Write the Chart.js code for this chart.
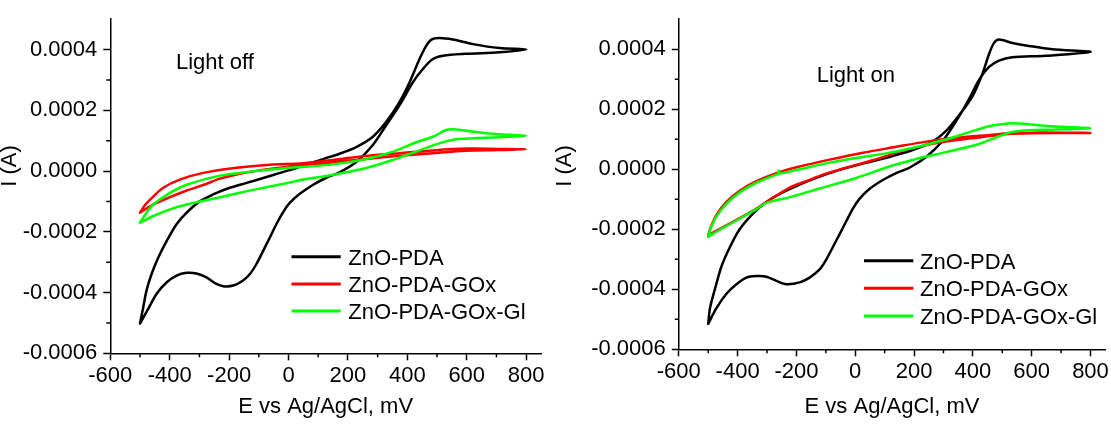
<!DOCTYPE html>
<html>
<head>
<meta charset="utf-8">
<title>CV light off / light on</title>
<script src="https://cdn.jsdelivr.net/npm/chart.js@4"></script>
<style>
    html, body { margin: 0; padding: 0; background: #fff; }
    body { width: 1111px; height: 424px; position: relative; overflow: hidden; }
    .panel { position: absolute; top: 0; height: 424px; }
    #offBox { left: -1px; width: 561px; }
    #onBox { left: 554px; width: 557px; }
</style>
</head>
<body>
<div class="panel" id="offBox"><canvas id="offChart"></canvas></div>
<div class="panel" id="onBox"><canvas id="onChart"></canvas></div>
<script>
const FONT = "'Liberation Sans', Arial, Helvetica, sans-serif";

const seriesNames = ["ZnO-PDA", "ZnO-PDA-GOx", "ZnO-PDA-GOx-Gl"];
const seriesColors = ["#000000", "#ff0000", "#00ff00"];

// axis ticks (potential in mV, current in units of 1e-4 A)
const xMinor = [-500, -300, -100, 100, 300, 500, 700];
const yMinor = [-5, -3, -1, 1, 3];

// Light off: scan from -500 up to 800 mV and back
const offPdaE = [-500, -489, -478, -461, -438, -410, -377, -343, -298, -254, -198, -141, -85, -29, 27, 83, 127, 172, 228, 284, 329, 374, 408, 441, 464, 481, 509, 553, 621, 710, 800,
    710, 598, 520, 486, 453, 419, 374, 329, 284, 228, 172, 127, 83, 38, 4, -18, -41, -63, -85, -108, -130, -153, -186, -220, -248, -276, -310, -343, -377, -410, -444, -472, -500];
const offPdaI = [-5.02, -4.48, -3.93, -3.39, -2.84, -2.30, -1.75, -1.37, -0.99, -0.77, -0.55, -0.39, -0.23, -0.06, 0.10, 0.29, 0.43, 0.57, 0.79, 1.13, 1.62, 2.28, 2.93, 3.69, 4.13, 4.33, 4.38, 4.33, 4.18, 4.05, 4.00,
    3.91, 3.86, 3.80, 3.69, 3.37, 2.93, 2.17, 1.51, 0.86, 0.30, -0.04, -0.22, -0.45, -0.75, -1.05, -1.35, -1.75, -2.19, -2.62, -3.06, -3.39, -3.60, -3.77, -3.79, -3.69, -3.50, -3.37, -3.35, -3.44, -3.66, -4.04, -4.53, -5.02];

const offGoxE = [-500, -483, -466, -422, -366, -287, -175, -63, 49, 160, 262, 374, 486, 598, 710, 800,
    710, 598, 486, 374, 262, 150, 38, -63, -119, -175, -231, -287, -343, -399, -455, -500];
const offGoxI = [-1.37, -1.12, -0.94, -0.55, -0.28, -0.06, 0.11, 0.21, 0.26, 0.38, 0.50, 0.59, 0.68, 0.74, 0.73, 0.72,
    0.69, 0.67, 0.59, 0.50, 0.40, 0.29, 0.18, 0.07, -0.01, -0.11, -0.25, -0.46, -0.64, -0.86, -1.10, -1.37];

const offGlE = [-500, -478, -455, -399, -343, -231, -119, -7, 38, 150, 262, 352, 430, 486, 531, 565, 621, 710, 800,
    710, 621, 565, 509, 430, 352, 262, 150, 38, -7, -119, -231, -343, -399, -455, -500];
const offGlI = [-1.70, -1.37, -1.10, -0.72, -0.45, -0.15, -0.01, 0.10, 0.13, 0.22, 0.40, 0.64, 0.95, 1.13, 1.35, 1.37, 1.30, 1.21, 1.16,
    1.11, 1.08, 1.05, 0.92, 0.64, 0.37, 0.10, -0.12, -0.30, -0.40, -0.62, -0.86, -1.10, -1.26, -1.48, -1.70];

// Light on
const onPdaE = [-500, -494, -477, -455, -426, -393, -347, -302, -257, -200, -133, -53, 26, 116, 195, 263, 308, 353, 399, 433, 455, 472, 489, 534, 591, 670, 800,
    647, 534, 489, 455, 421, 387, 342, 297, 241, 184, 139, 94, 48, 15, -8, -31, -53, -76, -99, -121, -155, -189, -234, -268, -302, -336, -370, -404, -438, -472, -500];
const onPdaI = [-5.15, -4.63, -3.99, -3.24, -2.59, -2.00, -1.47, -1.09, -0.82, -0.56, -0.29, -0.02, 0.19, 0.41, 0.64, 0.92, 1.27, 1.80, 2.44, 3.19, 3.84, 4.21, 4.32, 4.21, 4.11, 4.00, 3.91,
    3.78, 3.73, 3.62, 3.41, 2.98, 2.34, 1.59, 0.94, 0.41, 0.05, -0.13, -0.36, -0.66, -0.98, -1.31, -1.74, -2.16, -2.59, -3.02, -3.34, -3.61, -3.77, -3.83, -3.72, -3.58, -3.56, -3.61, -3.83, -4.15, -4.63, -5.15];

const onGoxE = [-500, -492, -472, -438, -393, -336, -268, -189, -87, 26, 130, 241, 350, 466, 523, 600, 800,
    600, 512, 421, 308, 184, 59, -31, -110, -167, -223, -268, -302, -336, -393, -449, -500];
const onGoxI = [-2.20, -1.95, -1.52, -1.09, -0.72, -0.40, -0.13, 0.09, 0.32, 0.55, 0.73, 0.92, 1.06, 1.15, 1.20, 1.22, 1.21,
    1.20, 1.17, 1.06, 0.92, 0.68, 0.30, 0.05, -0.18, -0.40, -0.61, -0.88, -1.09, -1.31, -1.63, -1.93, -2.20];

const onGlE = [-500, -492, -472, -438, -393, -336, -268, -262, -260, -258, -189, -87, 26, 100, 184, 308, 399, 455, 500, 534, 591, 670, 800,
    670, 591, 534, 489, 421, 308, 195, 116, 3, -110, -223, -302, -336, -393, -449, -500];
const onGlI = [-2.25, -1.98, -1.57, -1.15, -0.77, -0.45, -0.18, -0.155, -0.04, -0.145, 0.00, 0.22, 0.41, 0.52, 0.68, 0.99, 1.27, 1.43, 1.50, 1.53, 1.50, 1.43, 1.37,
    1.32, 1.30, 1.24, 1.10, 0.84, 0.57, 0.31, 0.09, -0.29, -0.61, -0.93, -1.12, -1.33, -1.65, -1.95, -2.25];

function toPoints(es, is) {
    return es.map((e, k) => ({ x: e, y: is[k] }));
}

function makeDatasets(loops) {
    return loops.map((loop, k) => ({
        label: seriesNames[k],
        data: toPoints(loop[0], loop[1]),
        borderColor: seriesColors[k],
        borderWidth: 2.5,
        showLine: true,
        pointRadius: 0,
        tension: 0.3,
        borderJoinStyle: "round",
        borderCapStyle: "round",
        order: 2 - k
    }));
}

// legend, note, y title and minor ticks drawn on the canvas
const panelDecor = {
    id: "panelDecor",
    afterDraw(chart, args, o) {
        const ctx = chart.ctx;
        const xs = chart.scales.x, ys = chart.scales.y;
        ctx.save();

        ctx.strokeStyle = "#000";
        ctx.lineWidth = 1.5;
        ctx.beginPath();
        xMinor.forEach(v => {
            const p = xs.getPixelForValue(v);
            ctx.moveTo(p, xs.top);
            ctx.lineTo(p, xs.top + 4);
        });
        yMinor.forEach(v => {
            const p = ys.getPixelForValue(v);
            ctx.moveTo(ys.right, p);
            ctx.lineTo(ys.right - 4, p);
        });
        ctx.stroke();

        ctx.fillStyle = "#000";
        ctx.font = "22px " + FONT;
        ctx.textAlign = "left";
        ctx.textBaseline = "alphabetic";
        ctx.fillText(o.note, o.noteX, o.noteY);

        chart.data.datasets.forEach((ds, k) => {
            const y = o.legendY + k * o.legendGap;
            ctx.strokeStyle = ds.borderColor;
            ctx.lineWidth = 3;
            ctx.beginPath();
            ctx.moveTo(o.lineX0, y);
            ctx.lineTo(o.lineX1, y);
            ctx.stroke();
            ctx.fillText(ds.label, o.textX, y + 8);
        });

        ctx.translate(o.yTitleX, o.yTitleY);
        ctx.rotate(-Math.PI / 2);
        ctx.textAlign = "center";
        ctx.textBaseline = "middle";
        ctx.fillText("I (A)", 0, 0);
        ctx.restore();
    }
};

function makeOptions(cfg) {
    const tickFont = { family: FONT, size: 22 };
    return {
        responsive: true,
        maintainAspectRatio: false,
        animation: false,
        layout: { padding: { top: cfg.top, right: cfg.right, bottom: 0, left: 0 } },
        plugins: {
            legend: { display: false },
            tooltip: { enabled: false },
            panelDecor: cfg.decor
        },
        scales: {
            x: {
                type: "linear",
                min: -600,
                max: 850,
                border: { color: "#000", width: 1.5 },
                grid: { drawOnChartArea: false, tickLength: 7, tickColor: "#000", tickWidth: 1.5 },
                ticks: { stepSize: 200, includeBounds: false, color: "#000", font: tickFont, padding: 2, maxRotation: 0, autoSkip: false },
                title: { display: true, text: "E vs Ag/AgCl, mV", color: "#000", font: { family: FONT, size: 22, lineHeight: 1.2 }, padding: { top: 0, bottom: 4 } },
                afterFit: s => { s.height = cfg.xHeight; }
            },
            y: {
                type: "linear",
                min: -6,
                max: 5,
                border: { color: "#000", width: 1.5 },
                grid: { drawOnChartArea: false, tickLength: 7, tickColor: "#000", tickWidth: 1.5 },
                ticks: { stepSize: 2, includeBounds: false, color: "#000", font: tickFont, padding: 6, autoSkip: false,
                    callback: v => (v / 10000).toFixed(4) },
                afterFit: s => { s.width = cfg.yWidth; }
            }
        }
    };
}

new Chart(document.getElementById("offChart"), {
    type: "scatter",
    data: { datasets: makeDatasets([[offPdaE, offPdaI], [offGoxE, offGoxI], [offGlE, offGlI]]) },
    options: makeOptions({
        top: 17, right: 19, xHeight: 70.7, yWidth: 111.3,
        decor: { note: "Light off", noteX: 177, noteY: 69.3,
            lineX0: 292.5, lineX1: 341.7, textX: 349.3, legendY: 256.7, legendGap: 27.2,
            yTitleX: 10.5, yTitleY: 166 }
    }),
    plugins: [panelDecor]
});

new Chart(document.getElementById("onChart"), {
    type: "scatter",
    data: { datasets: makeDatasets([[onPdaE, onPdaI], [onGoxE, onGoxI], [onGlE, onGlI]]) },
    options: makeOptions({
        top: 7.2, right: 4.5, xHeight: 74.7, yWidth: 124.8,
        decor: { note: "Light on", noteX: 262.7, noteY: 81.7,
            lineX0: 310, lineX1: 359.3, textX: 366, legendY: 260.7, legendGap: 27.65,
            yTitleX: 11, yTitleY: 166 }
    }),
    plugins: [panelDecor]
});
</script>
</body>
</html>
